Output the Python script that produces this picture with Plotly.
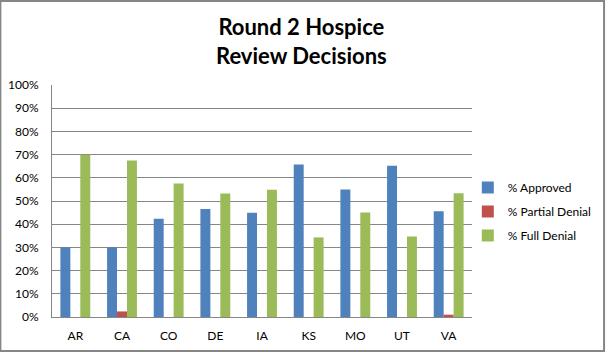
import plotly.graph_objects as go

states = ["AR", "CA", "CO", "DE", "IA", "KS", "MO", "UT", "VA"]
approved = [0.30, 0.30, 0.423, 0.466, 0.449, 0.657, 0.55, 0.652, 0.456]
partial = [0.0, 0.024, 0.0, 0.0, 0.0, 0.0, 0.0, 0.0, 0.010]
full = [0.699, 0.675, 0.575, 0.532, 0.549, 0.343, 0.45, 0.347, 0.533]
y_ticks = [i / 10 for i in range(11)]
y_labels = [f"{i*10}%" for i in range(11)]

font = "Lato, 'Liberation Sans', sans-serif"

fig = go.Figure()
for name, vals, col in [("% Approved", approved, "#4F81BD"),
                        ("% Partial Denial", partial, "#C0504D"),
                        ("% Full Denial", full, "#9BBB59")]:
    fig.add_trace(go.Bar(x=states, y=vals, name=name, marker_color=col,
                         marker_line_width=0, legendgroup=name))

fig.update_layout(
    width=609, height=352,
    margin=dict(l=52, r=134, t=85, b=35),
    paper_bgcolor="white", plot_bgcolor="white",
    barmode="group", bargap=0.36, bargroupgap=0,
    font=dict(family=font, size=12, color="#000000"),
    showlegend=True,
    legend=dict(x=0.99, xanchor="left", y=0.455, yanchor="middle",
                font=dict(size=12), tracegroupgap=5,
                bgcolor="rgba(0,0,0,0)"),
    annotations=[dict(text="<b>Round 2 Hospice<br>Review Decisions</b>",
                      xref="paper", yref="paper", x=0.593, y=1.19,
                      xanchor="center", yanchor="middle", showarrow=False,
                      font=dict(family=font, size=22, color="#000000"))],
    shapes=[dict(type="rect", xref="paper", yref="paper",
                 x0=-52/423, x1=1+133/423, y0=-34/232, y1=1+84/232,
                 line=dict(color="#868686", width=2))],
)
fig.update_xaxes(showline=True, linecolor="#868686", linewidth=1,
                 ticks="", showgrid=False, tickfont=dict(size=12),
                 ticklabelstandoff=8, automargin=False)
fig.update_yaxes(range=[0, 1], tickvals=y_ticks, ticktext=y_labels,
                 showgrid=True, gridcolor="#868686", gridwidth=1,
                 showline=True, linecolor="#868686", linewidth=1,
                 ticks="", zeroline=False, tickfont=dict(size=12),
                 ticklabelstandoff=10, automargin=False)

fig.write_html("out.html")
